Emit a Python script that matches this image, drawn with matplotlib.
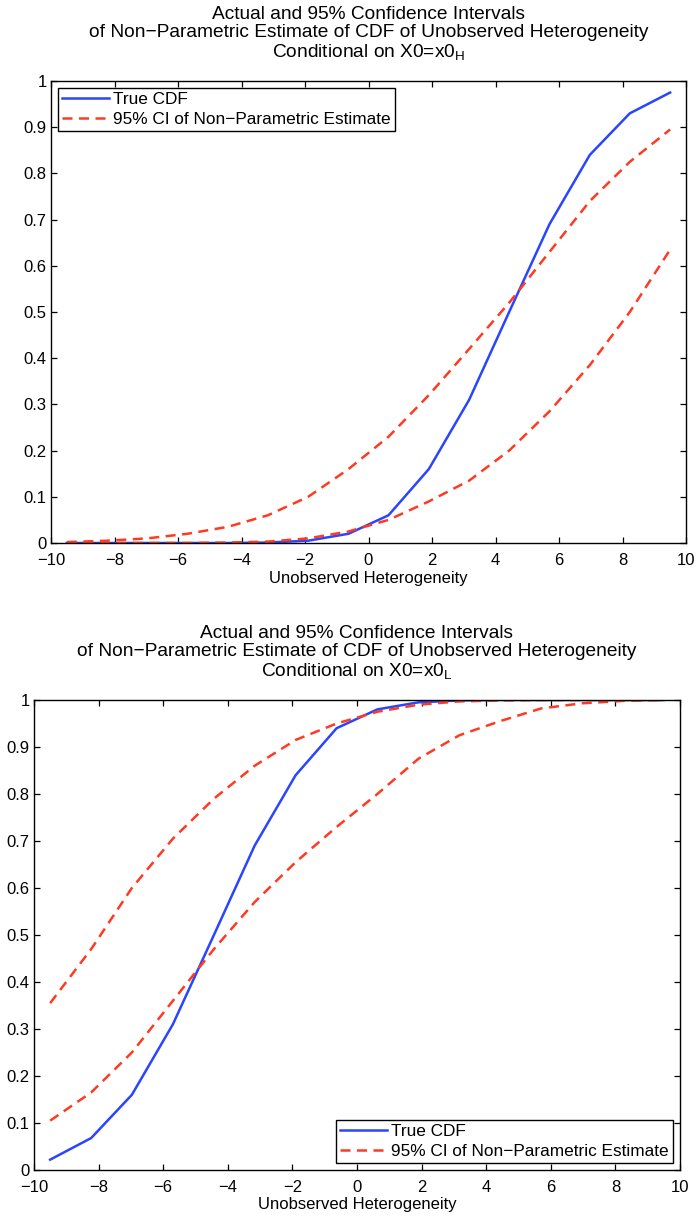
import matplotlib
matplotlib.use("Agg")
import matplotlib.pyplot as plt

plt.rcParams['font.family'] = ['Liberation Sans', 'DejaVu Sans']
plt.rcParams['mathtext.fontset'] = 'custom'
plt.rcParams['mathtext.rm'] = 'Liberation Sans'
plt.rcParams['mathtext.it'] = 'Liberation Sans'

# grid of unobserved heterogeneity values
x = [-9.5, -8.23, -6.97, -5.7, -4.43, -3.17, -1.9, -0.63,
     0.63, 1.9, 3.17, 4.43, 5.7, 6.97, 8.23, 9.5]

# X0 = x0_H
true_h = [0.0, 0.0, 0.0, 0.0, 0.0, 0.001, 0.005, 0.02,
          0.06, 0.16, 0.31, 0.50, 0.69, 0.84, 0.93, 0.975]
upper_h = [0.002, 0.005, 0.01, 0.02, 0.035, 0.06, 0.10, 0.16,
           0.23, 0.32, 0.42, 0.52, 0.63, 0.74, 0.825, 0.895]
lower_h = [0.0, 0.0, 0.0, 0.0, 0.001, 0.003, 0.01, 0.025,
           0.05, 0.09, 0.135, 0.20, 0.285, 0.385, 0.50, 0.635]

# X0 = x0_L
true_l = [0.022, 0.068, 0.16, 0.31, 0.50, 0.69, 0.84, 0.94,
          0.98, 0.995, 0.999, 1.0, 1.0, 1.0, 1.0, 1.0]
upper_l = [0.355, 0.47, 0.60, 0.705, 0.79, 0.86, 0.915, 0.95,
           0.975, 0.99, 0.997, 0.999, 1.0, 1.0, 1.0, 1.0]
lower_l = [0.105, 0.165, 0.25, 0.36, 0.47, 0.57, 0.655, 0.73,
           0.80, 0.875, 0.925, 0.955, 0.982, 0.993, 0.998, 1.0]

xticks = [-10, -8, -6, -4, -2, 0, 2, 4, 6, 8, 10]
yticks = [0, 0.1, 0.2, 0.3, 0.4, 0.5, 0.6, 0.7, 0.8, 0.9, 1]
ylabels = ['0', '0.1', '0.2', '0.3', '0.4', '0.5', '0.6', '0.7', '0.8', '0.9', '1']

BLUE = '#2a45ff'
RED = '#ff3a22'
DASH = (0, (4, 2.6))

W, H = 696, 1218
fig = plt.figure(figsize=(W / 100, H / 100), dpi=100)


def panel(rect, truth, upper, lower, sub, loc):
    l, t, r, b = rect
    ax = fig.add_axes([l / W, 1 - b / H, (r - l) / W, (b - t) / H])
    ax.plot(x, truth, color=BLUE, lw=1.8, label='True CDF')
    ax.plot(x, upper, color=RED, lw=1.8, ls=DASH,
            label='95% CI of Non\u2212Parametric Estimate')
    ax.plot(x, lower, color=RED, lw=1.8, ls=DASH)
    ax.set_xlim(-10, 10)
    ax.set_ylim(0, 1)
    ax.set_xticks(xticks)
    ax.set_xticklabels([str(v).replace('-', '\u2212') for v in xticks])
    ax.set_yticks(yticks)
    ax.set_yticklabels(ylabels)
    ax.tick_params(direction='in', top=True, right=True, length=4.3,
                   width=0.9, labelsize=12)
    ax.tick_params(axis='x', pad=7)
    ax.tick_params(axis='y', pad=3)
    for s in ax.spines.values():
        s.set_linewidth(1.0)
    ax.set_xlabel('Unobserved Heterogeneity', fontsize=12, labelpad=2)
    ax.set_title('Actual and 95% Confidence Intervals\n'
                 'of Non\u2212Parametric Estimate of CDF of Unobserved Heterogeneity\n'
                 'Conditional on X0=x0$_{\\mathrm{' + sub + '}}$',
                 fontsize=13.8, linespacing=1.1, pad=17)
    leg = ax.legend(loc=loc, fontsize=12.4, fancybox=False, framealpha=1,
                    edgecolor='black', borderaxespad=0.4, handlelength=2.7,
                    borderpad=0.25, labelspacing=0.25, handletextpad=0.25)
    leg.get_frame().set_linewidth(1.0)
    return ax


panel((51, 81, 686, 543), true_h, upper_h, lower_h, 'H', 'upper left')
panel((34, 700, 680, 1170), true_l, upper_l, lower_l, 'L', 'lower right')

fig.savefig('out.png', dpi=100)
